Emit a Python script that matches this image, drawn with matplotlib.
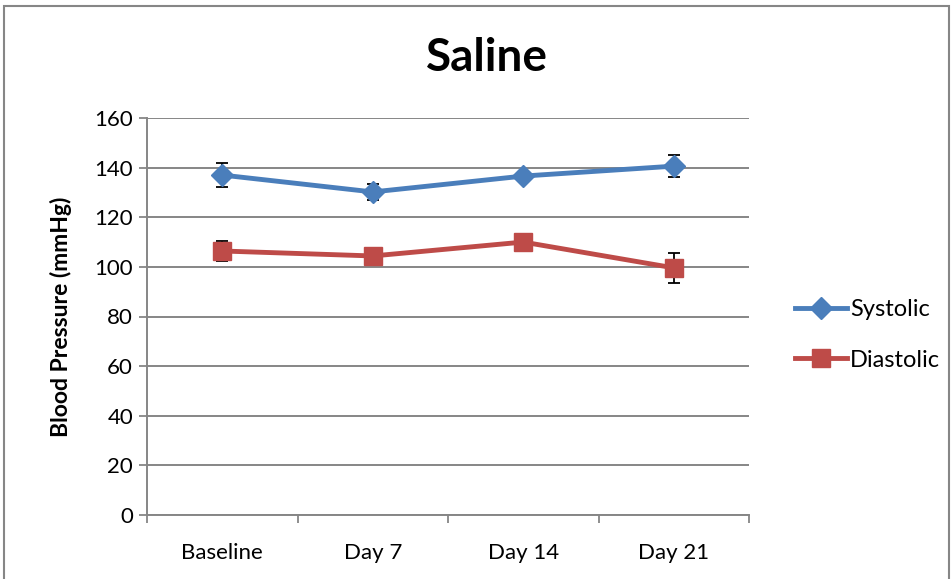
import matplotlib.pyplot as plt
from matplotlib.patches import Rectangle

plt.rcParams['font.family'] = ['Lato', 'DejaVu Sans']

categories = ["Baseline", "Day 7", "Day 14", "Day 21"]
systolic = [137, 130.2, 136.6, 140.6]
systolic_err = [5, 3.2, 1.5, 4.5]
diastolic = [106.4, 104.4, 110, 99.6]
diastolic_err = [4.2, 1.5, 1.5, 6]
yticks = [0, 20, 40, 60, 80, 100, 120, 140, 160]

BLUE = "#4A7EBB"
RED = "#BE4B48"
GRID = "#868686"

fig = plt.figure(figsize=(9.52, 5.79), dpi=100)
ax = fig.add_axes([147 / 952, 1 - 515 / 579, (749 - 147) / 952, (515 - 118) / 579])

# outer chart border
fig.patches.append(Rectangle((4 / 952, -0.01), 945 / 952, 1 - 6 / 579 + 0.01,
                             transform=fig.transFigure, fill=False,
                             edgecolor=GRID, linewidth=1.5))

x = list(range(len(categories)))
ax.errorbar(x, systolic, yerr=systolic_err, color=BLUE, ecolor="black",
            elinewidth=1.3, capsize=4, capthick=1.3, linewidth=3.5,
            marker="D", markersize=11, label="Systolic", zorder=3)
ax.errorbar(x, diastolic, yerr=diastolic_err, color=RED, ecolor="black",
            elinewidth=1.3, capsize=4, capthick=1.3, linewidth=3.5,
            marker="s", markersize=13, label="Diastolic", zorder=3)

ax.set_xlim(-0.5, 3.5)
ax.set_ylim(0, 160)
ax.set_yticks(yticks)
ax.tick_params(axis="y", labelsize=16, length=6, color=GRID, width=1.3, pad=4)
ax.set_xticks(x)
ax.set_xticklabels(categories)
ax.tick_params(axis="x", length=0, labelsize=16, pad=20)
ax.set_xticks([-0.5, 0.5, 1.5, 2.5, 3.5], minor=True)
ax.tick_params(axis="x", which="minor", length=6, color=GRID, width=1.3)

ax.grid(axis="y", color=GRID, linewidth=1.4)
ax.set_axisbelow(True)
for side in ["top", "right"]:
    ax.spines[side].set_visible(False)
for side in ["left", "bottom"]:
    ax.spines[side].set_color(GRID)
    ax.spines[side].set_linewidth(1.4)

ax.set_ylabel("Blood Pressure (mmHg)", fontsize=16.5, fontweight="bold", labelpad=16)
fig.text(487 / 952, 1 - 58 / 579, "Saline", fontsize=33, fontweight="bold",
         ha="center", va="center")

handles, labels = ax.get_legend_handles_labels()
handles = [h[0] for h in handles]
fig.legend(handles, labels, loc="center left", bbox_to_anchor=(786 / 952, 1 - 335 / 579),
           frameon=False, fontsize=17, handlelength=2.2, handletextpad=0.1,
           labelspacing=1.25, borderaxespad=0)

fig.savefig("out.png", dpi=100)
